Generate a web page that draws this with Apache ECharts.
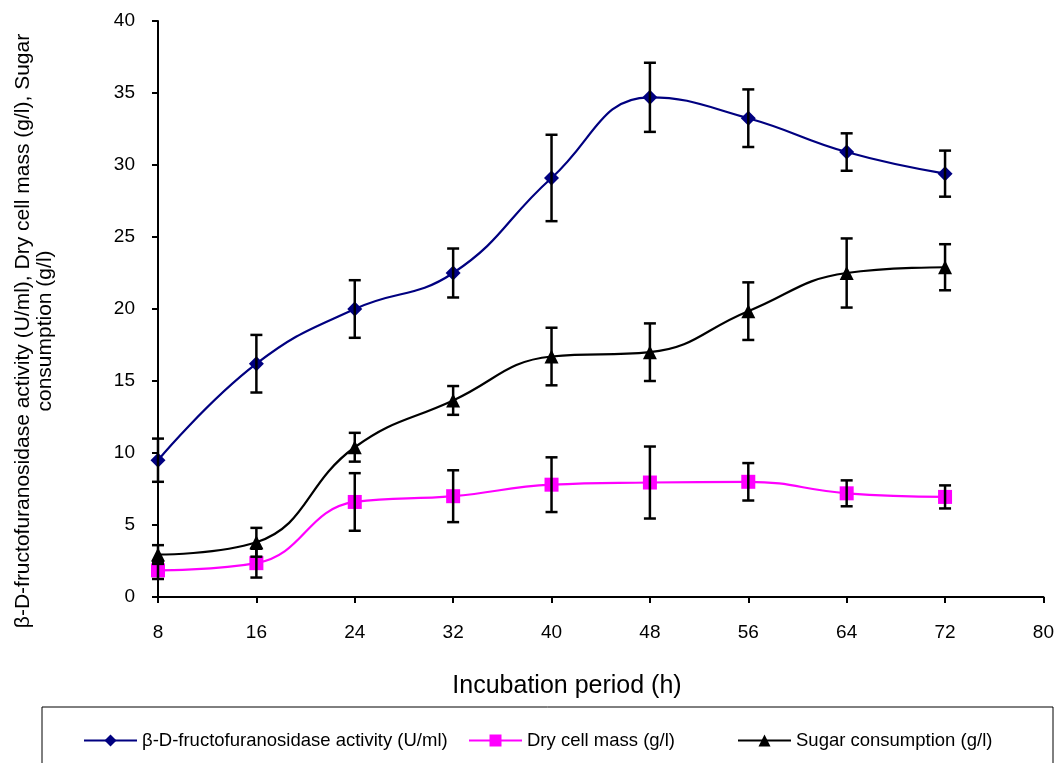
<!DOCTYPE html>
<html>
<head>
<meta charset="UTF-8">
<title></title>
<style>html,body{margin:0;padding:0;background:#fff}</style>
</head>
<body>
<div id="main" style="width:1057px;height:763px;"></div>
<script src="https://cdn.jsdelivr.net/npm/echarts@6/dist/echarts.min.js"></script>
<script>
// data
var hours = [8, 16, 24, 32, 40, 48, 56, 64, 72];
var enzyme = [9.5, 16.2, 20.0, 22.5, 29.1, 34.7, 33.25, 30.9, 29.4];
var enzymeErr = [1.5, 2.0, 2.0, 1.7, 3.0, 2.4, 2.0, 1.3, 1.6];
var dryMass = [1.85, 2.35, 6.6, 7.0, 7.8, 7.95, 8.0, 7.2, 6.95];
var dryMassErr = [0.6, 1.0, 2.0, 1.8, 1.9, 2.5, 1.3, 0.9, 0.8];
var sugar = [2.95, 3.8, 10.4, 13.65, 16.7, 17.0, 19.85, 22.5, 22.9];
var sugarErr = [0.65, 1.0, 1.0, 1.0, 2.0, 2.0, 2.0, 2.4, 1.6];
var names = ['β-D-fructofuranosidase activity (U/ml)', 'Dry cell mass (g/l)', 'Sugar consumption (g/l)'];

var font = 'Liberation Sans, Arial, sans-serif';

function pts(vals) {
  return hours.map(function (h, i) { return [h, vals[i]]; });
}
function errs(vals, e) {
  return hours.map(function (h, i) { return [h, vals[i] - e[i], vals[i] + e[i]]; });
}

function errorItem(params, api) {
  var x = api.value(0);
  var lo = api.coord([x, api.value(1)]);
  var hi = api.coord([x, api.value(2)]);
  var w = 6;
  var st = { stroke: '#000', lineWidth: 2.5 };
  return {
    type: 'group',
    children: [
      { type: 'line', shape: { x1: hi[0], y1: hi[1], x2: lo[0], y2: lo[1] }, style: st },
      { type: 'line', shape: { x1: hi[0] - w, y1: hi[1], x2: hi[0] + w, y2: hi[1] }, style: st },
      { type: 'line', shape: { x1: lo[0] - w, y1: lo[1], x2: lo[0] + w, y2: lo[1] }, style: st }
    ]
  };
}

function errSeries(data) {
  return {
    type: 'custom',
    renderItem: errorItem,
    encode: { x: 0, y: [1, 2] },
    data: data,
    z: 5,
    silent: true
  };
}

function legendAt(name, left) {
  return {
    data: [name],
    left: left,
    top: 731,
    padding: 0,
    itemWidth: 53,
    itemHeight: 15,
    itemGap: 5,
    textStyle: { fontFamily: font, fontSize: 18.5, color: '#000' }
  };
}

var myChart = echarts.init(document.getElementById('main'));

var option = {
  animation: false,
  backgroundColor: '#fff',
  grid: { left: 158, right: 12, top: 21, bottom: 166 },
  legend: [
    legendAt(names[0], 83),
    legendAt(names[1], 468),
    legendAt(names[2], 737)
  ],
  xAxis: {
    type: 'value',
    min: 8, max: 80, interval: 8,
    splitLine: { show: false },
    axisLine: { lineStyle: { color: '#000', width: 2 } },
    axisTick: { show: true, length: 6, lineStyle: { color: '#000', width: 2 } },
    axisLabel: { fontFamily: font, fontSize: 19, color: '#000', margin: 26 }
  },
  yAxis: {
    type: 'value',
    min: 0, max: 40, interval: 5,
    splitLine: { show: false },
    axisLine: { show: true, lineStyle: { color: '#000', width: 2 } },
    axisTick: { show: true, length: 6, lineStyle: { color: '#000', width: 2 } },
    axisLabel: { fontFamily: font, fontSize: 19, color: '#000', margin: 23 }
  },
  graphic: [
    {
      type: 'rect',
      shape: { x: 42, y: 707, width: 1011, height: 70 },
      style: { fill: 'none', stroke: '#000', lineWidth: 1 }
    },
    {
      type: 'text', x: 567, y: 686,
      style: { text: 'Incubation period (h)', font: '25px ' + font, fill: '#000', textAlign: 'center', textVerticalAlign: 'middle' }
    },
    {
      type: 'text', x: 23, y: 331, rotation: Math.PI / 2,
      style: { text: 'β-D-fructofuranosidase activity (U/ml), Dry cell mass (g/l), Sugar', font: '21px ' + font, fill: '#000', textAlign: 'center', textVerticalAlign: 'middle' }
    },
    {
      type: 'text', x: 45, y: 331, rotation: Math.PI / 2,
      style: { text: 'consumption (g/l)', font: '21px ' + font, fill: '#000', textAlign: 'center', textVerticalAlign: 'middle' }
    }
  ],
  series: [
    {
      name: names[0], type: 'line', smooth: 0.45,
      data: pts(enzyme),
      symbol: 'diamond', symbolSize: 15,
      itemStyle: { color: '#000080' },
      lineStyle: { color: '#000080', width: 2.2 },
      z: 3
    },
    {
      name: names[1], type: 'line', smooth: 0.45,
      data: pts(dryMass),
      symbol: 'rect', symbolSize: 14,
      itemStyle: { color: '#ff00ff' },
      lineStyle: { color: '#ff00ff', width: 2.2 },
      z: 3
    },
    {
      name: names[2], type: 'line', smooth: 0.45,
      data: pts(sugar),
      symbol: 'triangle', symbolSize: 14,
      itemStyle: { color: '#000' },
      lineStyle: { color: '#000', width: 2.2 },
      z: 3
    },
    errSeries(errs(enzyme, enzymeErr)),
    errSeries(errs(dryMass, dryMassErr)),
    errSeries(errs(sugar, sugarErr))
  ]
};

myChart.setOption(option);
</script>
</body>
</html>
